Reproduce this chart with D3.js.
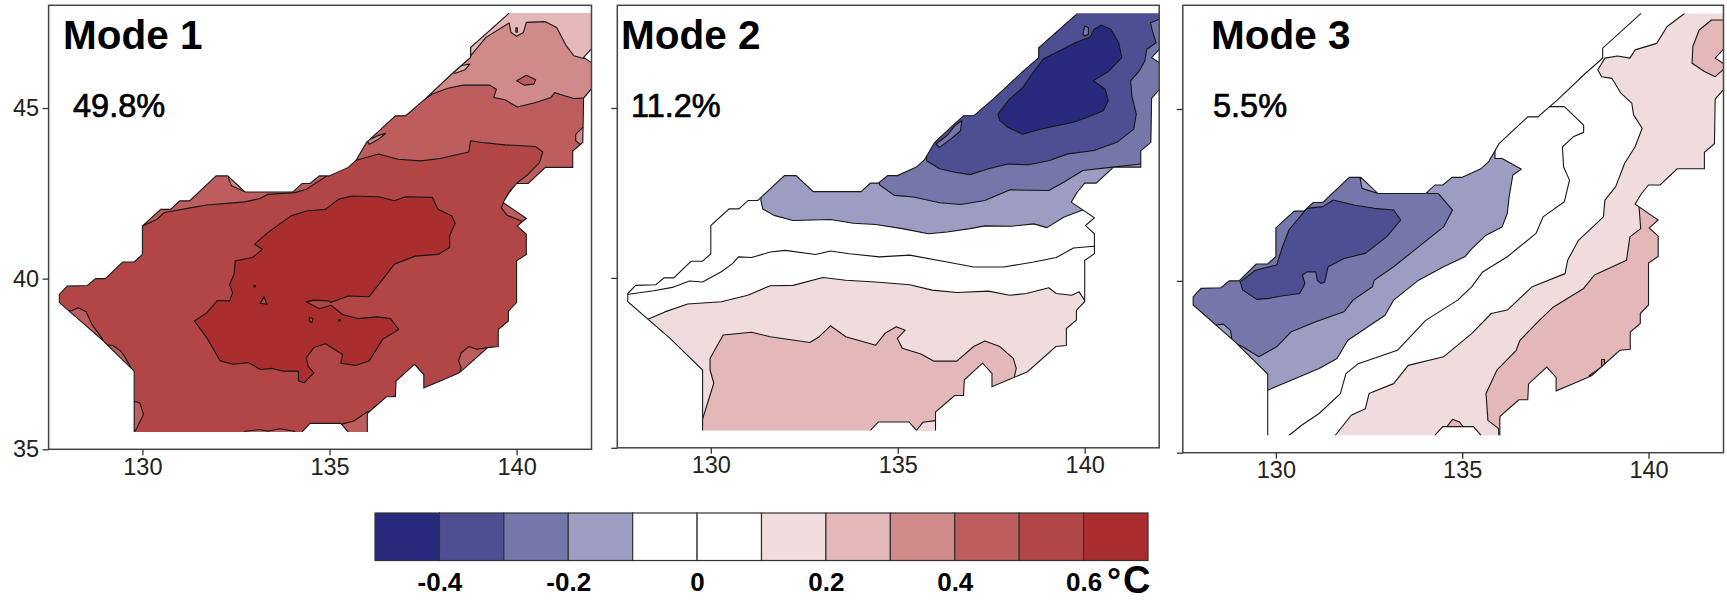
<!DOCTYPE html>
<html><head><meta charset="utf-8">
<style>html,body{margin:0;padding:0;background:#fff}svg{display:block}text{font-family:"Liberation Sans",Arial,sans-serif}</style>
<script src="https://cdn.jsdelivr.net/npm/d3@7"></script></head><body>
<script>
// ---------- data: all in degrees E / degrees N, values in degrees C ----------
const levels=[-0.5,-0.4,-0.3,-0.2,-0.1,0,0.1,0.2,0.3,0.4,0.5,0.6,0.7];
const bandColors=["#272a7c","#4e4f93","#7576aa","#9d9dc3","#ffffff","#ffffff","#f0dcdc","#e4b8b8","#d08a8a","#bd5d5d","#b24545","#aa2e2e"];
const barLabels=[-0.4,-0.2,0,0.2,0.4,0.6];
const lonTicks=[130,135,140];
const latTicks=[35,40,45];
const modeNames=["Mode 1","Mode 2","Mode 3"];
const modeVariance=["49.8%","11.2%","5.5%"];

const landRegion=[[139.8,47.78],[142,47.78],[142,46.73],[141.79,46.48],[142,46.33],[142,45.55],[141.79,45.29],[141.77,43.99],[141.5,43.74],[141.5,43.26],[140.77,43.26],[140.31,42.79],[140,42.79],[139.8,42.52],[139.64,42.23],[140.26,41.77],[140.02,41.54],[140.26,41.3],[140.26,40.71],[140,40.52],[140,39.3],[139.78,39.05],[139.78,38.76],[139.51,38.51],[139.51,38.01],[139.23,37.98],[138.47,37.24],[137.96,37],[137.52,36.8],[137.52,37.19],[137.27,37.49],[136.78,37],[136.76,36.54],[136.52,36.54],[136.01,36.05],[136.01,35.51],[135.5,35.51],[135.3,35.76],[134.48,35.76],[134.27,35.51],[129.78,35.51],[129.78,37.29],[128.91,38.22],[127.78,39.3],[127.78,39.54],[127.99,39.78],[128.53,39.8],[128.75,40],[129.01,40],[129.47,40.49],[129.78,40.49],[130,40.71],[130,41.54],[130.49,42.03],[130.75,42.03],[131,42.28],[131.26,42.28],[131.97,43.01],[132.28,43.01],[132.74,42.54],[134.02,42.54],[134.27,42.79],[134.48,42.79],[134.73,43.01],[134.99,43.01],[135.5,43.26],[135.71,43.47],[135.99,43.99],[136.52,44.53],[136.76,44.77],[137.03,44.77],[137.55,45.26],[138.31,46.04],[138.77,46.48],[138.77,46.77]];
const coastNotch=[[142,46.73],[141.79,46.48],[142,46.33]];
const coastEast=[[142,45.55],[141.79,45.29],[141.77,43.99],[141.5,43.74],[141.5,43.26],[140.77,43.26],[140.31,42.79],[140,42.79],[139.8,42.52],[139.64,42.23],[140.26,41.77],[140.02,41.54],[140.26,41.3],[140.26,40.71],[140,40.52],[140,39.3],[139.78,39.05],[139.78,38.76],[139.51,38.51],[139.51,38.01],[139.23,37.98],[138.47,37.24],[137.96,37],[137.52,36.8],[137.52,37.19],[137.27,37.49],[136.78,37],[136.76,36.54],[136.52,36.54],[136.01,36.05],[136.01,35.51]];
const coastBay=[[135.5,35.51],[135.3,35.76],[134.48,35.76],[134.27,35.51]];
const coastWest=[[129.78,35.51],[129.78,37.29],[128.91,38.22],[127.78,39.3],[127.78,39.54],[127.99,39.78],[128.53,39.8],[128.75,40],[129.01,40],[129.47,40.49],[129.78,40.49],[130,40.71],[130,41.54],[130.49,42.03],[130.75,42.03],[131,42.28],[131.26,42.28],[131.97,43.01],[132.28,43.01],[132.74,42.54],[134.02,42.54],[134.27,42.79],[134.48,42.79],[134.73,43.01],[134.99,43.01],[135.5,43.26],[135.71,43.47],[135.99,43.99],[136.52,44.53],[136.76,44.77],[137.03,44.77],[137.55,45.26],[138.31,46.04],[138.77,46.48],[138.77,46.77],[139.8,47.78]];
const coastLines=[coastNotch,coastEast,coastBay,coastWest];

// Each region: [lower band edge, closed ring]. Ring legs that run over the sea are hidden by the land clip.
const mode1Base=0.5;
const mode1Regions=[
[0.4,[[129.8,41.5],[130,41.54],[130.39,41.74],[130.59,41.94],[131.31,42.08],[131.72,42.16],[132.74,42.25],[133.15,42.35],[133.35,42.47],[134.07,42.52],[134.38,42.62],[134.79,42.91],[135.19,43.21],[135.71,43.47],[136.32,43.65],[136.83,43.5],[137.44,43.45],[137.96,43.52],[138.72,43.71],[138.77,44.04],[139.08,43.99],[139.69,43.92],[140.51,43.87],[140.7,43.71],[140.61,43.4],[140.31,43.06],[140,42.79],[145,42.79],[145,49],[129.8,49]]],
[0.3,[[137.39,45.14],[137.75,45.41],[138.16,45.58],[138.57,45.67],[139.28,45.67],[139.46,45.55],[139.39,45.31],[139.69,45.24],[140.02,45.03],[140.51,45.16],[140.92,45.31],[141.02,45.45],[141.28,45.36],[141.53,45.28],[141.79,45.29],[142,45.55],[145,45.55],[145,49],[137.39,49]]],
[0.4,[[140,45.8],[140.26,45.96],[140.51,45.83],[140.46,45.7],[140.2,45.67]]],
[0.2,[[138.77,46.53],[139.18,47.07],[139.8,47.49],[139.85,47.21],[140,47.1],[140.18,47.21],[140.26,47.51],[140.77,47.53],[141.07,47.36],[141.33,46.82],[141.53,46.53],[141.79,46.45],[143,46.9],[143,49],[138.77,49]]],
[0.3,[[139.98,47.35],[140.02,47.35],[140.02,47.22],[139.98,47.22]]],
[0.2,[[138.31,46.04],[138.52,46.24],[138.75,46.29],[138.62,46.12],[138.36,46.02]]],
[0.3,[[136.01,44.04],[136.27,44.18],[136.5,44.26],[136.32,44.09],[136.06,43.94]]],
[0.3,[[141.77,44.43],[141.58,44.23],[141.58,44.04],[141.69,43.94],[141.93,43.99],[141.93,44.43]]],
[0.4,[[139.85,42.62],[139.74,42.42],[139.59,42.08],[139.74,41.86],[140.2,41.66],[140.51,41.84],[140.51,42.33]]],
[0.4,[[128.09,39.05],[128.29,39.15],[128.5,39.02],[128.65,38.66],[128.94,38.22],[128.24,38.32],[127.73,39.1]]],
[0.4,[[128.98,38.07],[129.21,38.04],[129.42,37.88],[129.52,37.73],[129.72,37.34],[128.85,37.83]]],
[0.4,[[129.78,36.41],[129.93,36.36],[130.03,36.02],[129.83,35.58],[129.78,35.51],[129,35.5],[129,36.41]]],
[0.4,[[135.3,35.73],[135.65,35.83],[136.01,36.1],[137,36.1],[137,35],[135.3,35]]],
[0.4,[[132.74,35.53],[133.15,35.58],[133.35,35.53],[133.66,35.6],[134.07,35.53],[134.07,35],[132.74,35]]],
[0.4,[[139.23,37.98],[138.93,37.93],[138.72,38.01],[138.52,37.83],[138.45,37.59],[138.52,37.39],[138.47,37.24],[140,37.24],[140,37.98]]],
[0.4,[[136.17,36.22],[136.42,36.41],[136.73,36.56],[137,36.56],[137,36],[136.17,36]]],
[0.3,[[132.3,42.96],[132.38,42.72],[132.69,42.57],[132.84,42.62],[132.43,43.11]]],
[0.6,[[133,41.01],[133.35,41.35],[133.97,41.84],[134.38,41.98],[134.89,42.03],[135.25,42.33],[135.6,42.42],[136.32,42.4],[136.73,42.28],[137.03,42.4],[137.75,42.38],[137.9,42.03],[138.26,41.84],[138.36,41.64],[138.21,41.25],[138.21,40.91],[137.9,40.71],[137.29,40.66],[136.73,40.42],[136.42,39.98],[136.06,39.47],[135.5,39.49],[135.04,39.3],[134.99,39.35],[134.58,39.37],[134.38,39.32],[134.73,39.12],[135.04,39.22],[135.35,38.95],[135.76,38.83],[136.27,38.88],[136.63,38.83],[136.85,38.51],[136.42,38.22],[136.06,37.59],[135.71,37.46],[135.3,37.52],[135.35,37.78],[134.89,38.09],[134.58,37.98],[134.38,37.68],[134.43,37.44],[134.58,37.24],[134.33,36.95],[134.17,37],[134.17,37.29],[133.76,37.29],[133.46,37.37],[133.15,37.34],[132.84,37.54],[132.43,37.49],[132.08,37.59],[131.72,38.27],[131.39,38.76],[131.72,39],[132,39.36],[132.33,39.35],[132.41,39.59],[132.33,39.83],[132.45,40.13],[132.48,40.52],[132.94,40.62],[133.2,40.86]]],
[0.5,[[133.15,39.28],[133.25,39.47],[133.33,39.25]]],
[0.5,[[134.46,38.86],[134.56,38.83],[134.53,38.71],[134.46,38.76]]],
[0.5,[[132.98,39.8],[133.02,39.8],[133.02,39.76],[132.98,39.76]]],
[0.5,[[135.25,38.8],[135.29,38.8],[135.29,38.76],[135.25,38.76]]]
];

const mode2Base=0;
const mode2Regions=[
[-0.2,[[131.34,42.28],[131.39,42.03],[131.69,41.84],[132.2,41.69],[133.2,41.72],[133.81,41.61],[134.41,41.57],[135.12,41.45],[135.82,41.3],[136.32,41.35],[136.93,41.45],[137.33,41.53],[138.04,41.52],[138.64,41.59],[138.99,41.48],[139.45,41.79],[139.95,42],[145,42],[145,49],[131.34,49]]],
[-0.3,[[134.51,42.74],[134.91,42.43],[135.42,42.38],[136.12,42.21],[136.68,42.16],[137.33,42.28],[137.99,42.59],[139.04,42.57],[139.45,42.82],[139.95,43.16],[140.75,43.26],[141.51,43.35],[145,43.35],[145,49],[134.51,49]]],
[-0.4,[[135.77,43.45],[136.12,43.21],[136.53,43.11],[136.93,43.04],[137.43,43.21],[137.94,43.35],[138.49,43.33],[139.04,43.45],[139.55,43.65],[140.25,43.75],[140.86,43.99],[141.31,44.38],[141.38,44.82],[141.26,45.36],[141.23,45.8],[141.46,46.09],[141.61,46.39],[141.66,46.73],[141.91,46.92],[141.81,47.27],[141.76,47.51],[142,47.61],[145,47.61],[145,49],[135.77,49]]],
[-0.3,[[136.02,43.94],[136.32,44.19],[136.53,44.48],[136.71,44.63],[136.68,44.33],[136.42,44.09],[136.12,43.84]]],
[-0.3,[[139.95,47.17],[140,47.41],[140.1,47.36],[140.1,47.17],[140,47.12]]],
[-0.5,[[137.68,44.82],[137.99,45.26],[138.34,45.6],[138.59,46],[138.89,46.44],[139.24,46.63],[139.75,46.92],[140.15,47.09],[140.25,47.32],[140.45,47.44],[140.7,47.32],[140.91,46.92],[140.99,46.48],[140.65,46.09],[140.23,45.8],[140.55,45.55],[140.63,45.21],[140.5,44.92],[140.05,44.72],[139.7,44.58],[138.84,44.38],[138.34,44.23],[137.94,44.43],[137.73,44.63]]],
[0,[[127.81,39.52],[128.47,39.62],[128.97,39.72],[129.43,39.91],[129.78,39.88],[130.28,40.18],[130.58,40.42],[130.74,40.62],[131.09,40.6],[131.59,40.76],[131.99,40.81],[132.8,40.69],[133.2,40.79],[133.71,40.71],[134.51,40.62],[135.32,40.67],[136.32,40.47],[137.03,40.32],[137.83,40.32],[138.64,40.47],[139.24,40.6],[139.7,40.88],[140.25,40.93],[145,40.93],[145,30],[125,30],[125,39.52]]],
[0.1,[[128.27,38.76],[128.77,39],[129.38,39.23],[130.28,39.3],[130.99,39.49],[131.59,39.77],[132.2,39.78],[133,40.01],[133.61,39.93],[134.41,39.88],[135.32,39.8],[135.92,39.64],[136.58,39.57],[137.43,39.61],[137.99,39.49],[138.44,39.54],[139.04,39.71],[139.24,39.54],[139.65,39.49],[139.85,39.59],[140,39.34],[145,39.34],[145,30],[125,30],[125,38.76]]],
[0.2,[[129.76,35.78],[130.08,36.9],[129.98,37.29],[129.98,37.63],[130.33,38.32],[131.09,38.4],[131.59,38.27],[132.65,38.1],[132.9,38.27],[133.2,38.59],[133.61,38.27],[134.41,38.02],[134.66,38.37],[134.96,38.56],[135.2,38.46],[134.99,38.22],[135.12,37.93],[135.62,37.76],[135.97,37.55],[136.58,37.55],[137.03,37.98],[137.33,38.14],[137.73,37.98],[138.09,37.63],[138.17,37.34],[138.12,37.1],[139,36],[139,30],[129,30],[129,35.78]]],
[0.1,[[135.5,35.51],[135.67,35.75],[136,35.8],[137,35.8],[137,35],[135.5,35]]]
];

const mode3Base=0;
const mode3Regions=[
[0,[[137.34,45.07],[137.74,45.07],[138.26,44.53],[138.26,44.32],[137.98,44.19],[137.69,43.9],[137.72,43.32],[137.88,42.93],[137.74,42.3],[137.17,41.86],[136.98,41.38],[136.21,40.7],[135.55,40.26],[135.26,39.83],[134.88,39.44],[134.02,38.85],[133.26,37.98],[132.21,37.59],[131.88,37.3],[131.73,36.72],[131.16,36.14],[130.69,35.8],[130.35,35.5],[130.35,34],[145,34],[145,50],[137,50]]],
[0.1,[[140.96,47.77],[140.5,47.4],[140.22,46.91],[139.64,46.72],[139.5,46.48],[139.17,46.54],[138.83,46.48],[138.64,46.14],[138.74,45.94],[139.02,45.89],[139.26,45.46],[139.55,45.17],[139.6,44.83],[139.83,44.44],[139.64,43.9],[139.36,43.42],[139.12,42.74],[138.83,42.35],[138.79,41.86],[138.12,41.18],[137.83,40.6],[137.76,40.21],[136.88,39.83],[136.21,39.15],[135.78,39.05],[135.26,38.47],[134.5,37.79],[133.55,37.54],[133.16,37.01],[132.5,36.72],[132.4,36.28],[132.02,36.09],[131.59,35.5],[131.59,34],[145,34],[145,50],[140.96,50]]],
[0.2,[[139.74,42.25],[139.79,41.52],[139.5,41.28],[139.41,40.6],[138.55,40.17],[138.26,39.78],[137.45,39.24],[137.07,38.85],[136.55,38.27],[136.45,37.98],[135.93,37.4],[135.64,36.72],[135.69,35.94],[135.98,35.7],[135.98,34],[145,34],[145,42.25]]],
[0.2,[[142,47.59],[141.69,47.59],[141.36,47.3],[141.19,46.82],[141.17,46.33],[141.5,46.09],[141.79,45.94],[142,46.14],[143,46.14],[143,47.59]]],
[0.2,[[134.55,35.7],[134.74,35.97],[134.93,35.89],[135.05,35.72]]],
[0.3,[[138.41,37.25],[138.74,37.49],[138.74,37.71],[138.82,37.71],[138.82,37.49],[138.5,37.22]]],
[-0.2,[[135.88,43.56],[136.07,43.56],[136.59,43.25],[136.36,43.08],[136.26,42.45],[136.21,41.96],[136.07,41.57],[135.64,41.33],[135.26,40.94],[135.07,40.7],[134.5,40.41],[133.83,40.02],[133.16,39.44],[132.93,39],[131.93,38.27],[131.64,37.74],[131.16,37.45],[130.3,37.06],[129.78,36.82],[129,36.82],[127,38.5],[127,41],[130,45],[135.88,45]]],
[-0.3,[[134.07,42.54],[134.36,42.54],[134.74,42.06],[134.5,41.57],[133.83,40.99],[133.16,40.41],[132.64,40.02],[132.59,39.83],[132.07,39.44],[131.83,39.1],[131.07,38.81],[130.4,38.51],[130.02,38.08],[129.54,37.79],[129.11,38.08],[128.83,38.22],[128.78,38.56],[128.59,38.74],[128.35,38.71],[127,38.71],[127,41],[130,45],[134.07,45]]],
[-0.2,[[132.26,42.98],[132.31,42.69],[132.74,42.54],[132.88,42.59],[132.5,43.03]]],
[-0.4,[[129.04,39.97],[129.45,40.31],[130.02,40.46],[130.16,40.94],[130.35,41.48],[130.83,42.11],[131.26,42.16],[131.54,42.35],[132.12,42.2],[132.64,42.11],[133.16,42.06],[133.35,41.77],[132.97,41.28],[132.4,40.8],[131.83,40.65],[131.4,40.41],[131.31,39.97],[131.21,39.92],[131.11,40.02],[131.07,40.26],[130.83,40.26],[130.71,40.17],[130.78,39.92],[130.64,39.63],[130.11,39.55],[129.83,39.49],[129.49,39.46],[129.11,39.73]]]
];

const modeRegions=[mode1Regions,mode2Regions,mode3Regions];
const modeBases=[mode1Base,mode2Base,mode3Base];

// ---------- layout ----------
const W=1727,H=601;
const frames=[
 {l:48.6,r:591.5,t:5.3,b:449.3,x130:142.4,x140:516.6,y35:449.3,y45:108,tx:63,px:73,lab:true},
 {l:617.3,r:1159.2,t:5.3,b:447.8,x130:710.8,x140:1084.7,y35:447.8,y45:108,tx:621,px:631,lab:false},
 {l:1182.8,r:1723.5,t:5.3,b:452.7,x130:1275.9,x140:1648.5,y35:452.7,y45:109,tx:1211,px:1213,lab:false}];

const svg=d3.select("body").append("svg").attr("width",W).attr("height",H);
const bandColor=d3.scaleThreshold().domain(levels.slice(1,-1)).range(bandColors);

frames.forEach((f,i)=>{
  const x=d3.scaleLinear().domain([130,140]).range([f.x130,f.x140]);
  const y=d3.scaleLinear().domain([35,45]).range([f.y35,f.y45]);
  const line=d3.line().x(d=>x(d[0])).y(d=>y(d[1]));
  const g=svg.append("g");
  g.append("clipPath").attr("id","land"+i).append("path").attr("d",line(landRegion)+"Z");
  const map=g.append("g").attr("clip-path",`url(#land${i})`);
  map.append("path").attr("d",line(landRegion)+"Z").attr("fill",bandColor(modeBases[i]));
  map.selectAll("path.band").data(modeRegions[i]).join("path").attr("class","band")
    .attr("d",d=>line(d[1])+"Z").attr("fill",d=>bandColor(d[0]))
    .attr("stroke","#151515").attr("stroke-width",1.1).attr("stroke-linejoin","round");
  g.selectAll("path.coast").data(coastLines).join("path").attr("class","coast")
    .attr("d",line).attr("fill","none").attr("stroke","#1a1a1a").attr("stroke-width",1.1);
  g.append("rect").attr("x",f.l).attr("y",f.t).attr("width",f.r-f.l).attr("height",f.b-f.t)
    .attr("fill","none").attr("stroke","#444").attr("stroke-width",1.5);
  const ax=g.append("g").attr("transform",`translate(0,${f.b})`)
    .call(d3.axisBottom(x).tickValues(lonTicks).tickSize(6).tickPadding(3).tickFormat(d3.format("d")));
  const ay=g.append("g").attr("transform",`translate(${f.l},0)`)
    .call(d3.axisLeft(y).tickValues(latTicks).tickSize(6).tickPadding(3.5).tickFormat(f.lab?d3.format("d"):""));
  [ax,ay].forEach(a=>{a.select(".domain").remove();
    a.selectAll("line").attr("stroke","#333").attr("stroke-width",1.3);
    a.selectAll("text").attr("font-size",23.5).attr("fill","#222").attr("font-family","'Liberation Sans',Arial,sans-serif");});
  g.append("text").attr("x",f.tx).attr("y",49).attr("font-size",40.5).attr("font-weight","bold").attr("fill","#000").text(modeNames[i]);
  g.append("text").attr("x",f.px).attr("y",117.3).attr("font-size",32.5).attr("fill","#000").attr("stroke","#000").attr("stroke-width",0.7).text(modeVariance[i]);
});

// colour bar
const bx=d3.scaleLinear().domain([levels[0],levels[levels.length-1]]).range([375,1148]);
const bar=svg.append("g");
bar.selectAll("rect").data(bandColors).join("rect")
  .attr("x",(d,i)=>bx(levels[i])).attr("width",(d,i)=>bx(levels[i+1])-bx(levels[i]))
  .attr("y",513).attr("height",47.5).attr("fill",d=>d).attr("stroke","#333").attr("stroke-width",1.2);
const barAxis=bar.append("g").attr("transform","translate(0,560.5)")
  .call(d3.axisBottom(bx).tickValues(barLabels).tickSize(0).tickPadding(12.5).tickFormat(d=>d===0?"0":d.toFixed(1)));
barAxis.select(".domain").remove();
barAxis.selectAll("text").attr("font-size",26).attr("font-weight","bold").attr("fill","#000").attr("font-family","'Liberation Sans',Arial,sans-serif");
const unit=bar.append("text").attr("x",1107).attr("y",593).attr("font-weight","bold").attr("fill","#000");
unit.append("tspan").attr("font-size",35).text("°");
unit.append("tspan").attr("font-size",38).attr("x",1123).attr("dy",-0.5).text("C");
</script></body></html>
